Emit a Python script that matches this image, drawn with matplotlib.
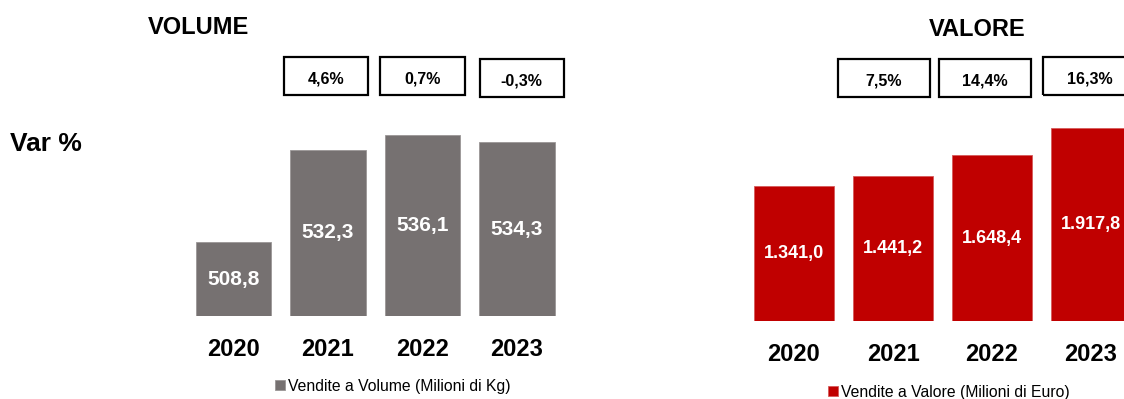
import matplotlib.pyplot as plt
from matplotlib.patches import Rectangle
import matplotlib.transforms as mtransforms

plt.rcParams['font.family'] = ['Liberation Sans', 'DejaVu Sans']

# dati
anni = ['2020', '2021', '2022', '2023']
volume = [508.8, 532.3, 536.1, 534.3]      # Milioni di Kg
valore = [1341.0, 1441.2, 1648.4, 1917.8]  # Milioni di Euro

GRIGIO = '#767171'
ROSSO = '#C00000'

W, H = 1124, 399
fig = plt.figure(figsize=(W / 100, H / 100), dpi=100)


def assi_px(left, top, right, bottom):
    # crea un asse dato in pixel (origine in alto a sinistra)
    return fig.add_axes([left / W, 1 - bottom / H, (right - left) / W, (bottom - top) / H])


def fmt_it(v):
    s = f"{v:,.1f}"
    return s.replace(',', '#').replace('.', ',').replace('#', '.')


def var_pct(serie):
    out = []
    for a, b in zip(serie[:-1], serie[1:]):
        out.append(f"{(b / a - 1) * 100:.1f}%".replace('.', ','))
    return out


def disegna(ax, valori, colore, bordo, ymin, ymax, fs_val, legenda, leg_xy,
            box_w, box_dx, box_top):
    x = list(range(len(valori)))
    bars = ax.bar(x, valori, width=0.8, color=colore, edgecolor=bordo,
                  linewidth=0.6, label=legenda)
    ax.set_xlim(-0.5, 3.5)
    ax.set_ylim(ymin, ymax)
    for xi, v in zip(x, valori):
        ax.text(xi, (ymin + v) / 2, fmt_it(v), ha='center', va='center',
                color='white', fontsize=fs_val, fontweight='bold')
    ax.set_xticks(x, anni)
    ax.tick_params(axis='x', length=0, pad=16, labelsize=17)
    for lab in ax.get_xticklabels():
        lab.set_fontweight('bold')
    ax.set_yticks([])
    for s in ax.spines.values():
        s.set_visible(False)

    # riquadri con la variazione % anno su anno
    tr = mtransforms.blended_transform_factory(ax.transData, fig.transFigure)
    for xi, dx, top, testo in zip(x[1:], box_dx, box_top, var_pct(valori)):
        xc = xi + dx
        r = Rectangle((xc - box_w / 2, 1 - (top + 38) / H), box_w, 38 / H,
                      transform=tr, fill=False, lw=1.6, ec='black', clip_on=False)
        ax.add_artist(r)
        ax.text(xc, 1 - (top + 22) / H, testo, transform=tr, ha='center',
                va='center', fontsize=11.5, fontweight='bold')

    ax.legend(handles=[bars], labels=[legenda], loc='center', frameon=False,
              bbox_to_anchor=leg_xy, bbox_transform=fig.transFigure,
              fontsize=11.3, handlelength=0.6, handleheight=0.6,
              handletextpad=0.2, borderpad=0)


ax1 = assi_px(186.25, 100, 564.25, 316)
disegna(ax1, volume, GRIGIO, '#9a9696', 490, 545, 15,
        'Vendite a Volume (Milioni di Kg)', (393 / W, 1 - 386.5 / H),
        0.89, [-0.02, 0.0, 0.05], [57, 57, 59])

ax2 = assi_px(744.5, 100, 1140.5, 321)
disegna(ax2, valore, ROSSO, '#d65a5a', 0, 2197, 13,
        'Vendite a Valore (Milioni di Euro)', (949 / W, 1 - 392 / H),
        0.93, [-0.09, -0.075, -0.015], [59, 59, 57])

fig.text(198 / W, 1 - 27 / H, 'VOLUME', ha='center', va='center',
         fontsize=17, fontweight='bold')
fig.text(977 / W, 1 - 29 / H, 'VALORE', ha='center', va='center',
         fontsize=17, fontweight='bold')
fig.text(10 / W, 1 - 144 / H, 'Var %', ha='left', va='center',
         fontsize=19, fontweight='bold')

fig.savefig('out.png', dpi=100)
